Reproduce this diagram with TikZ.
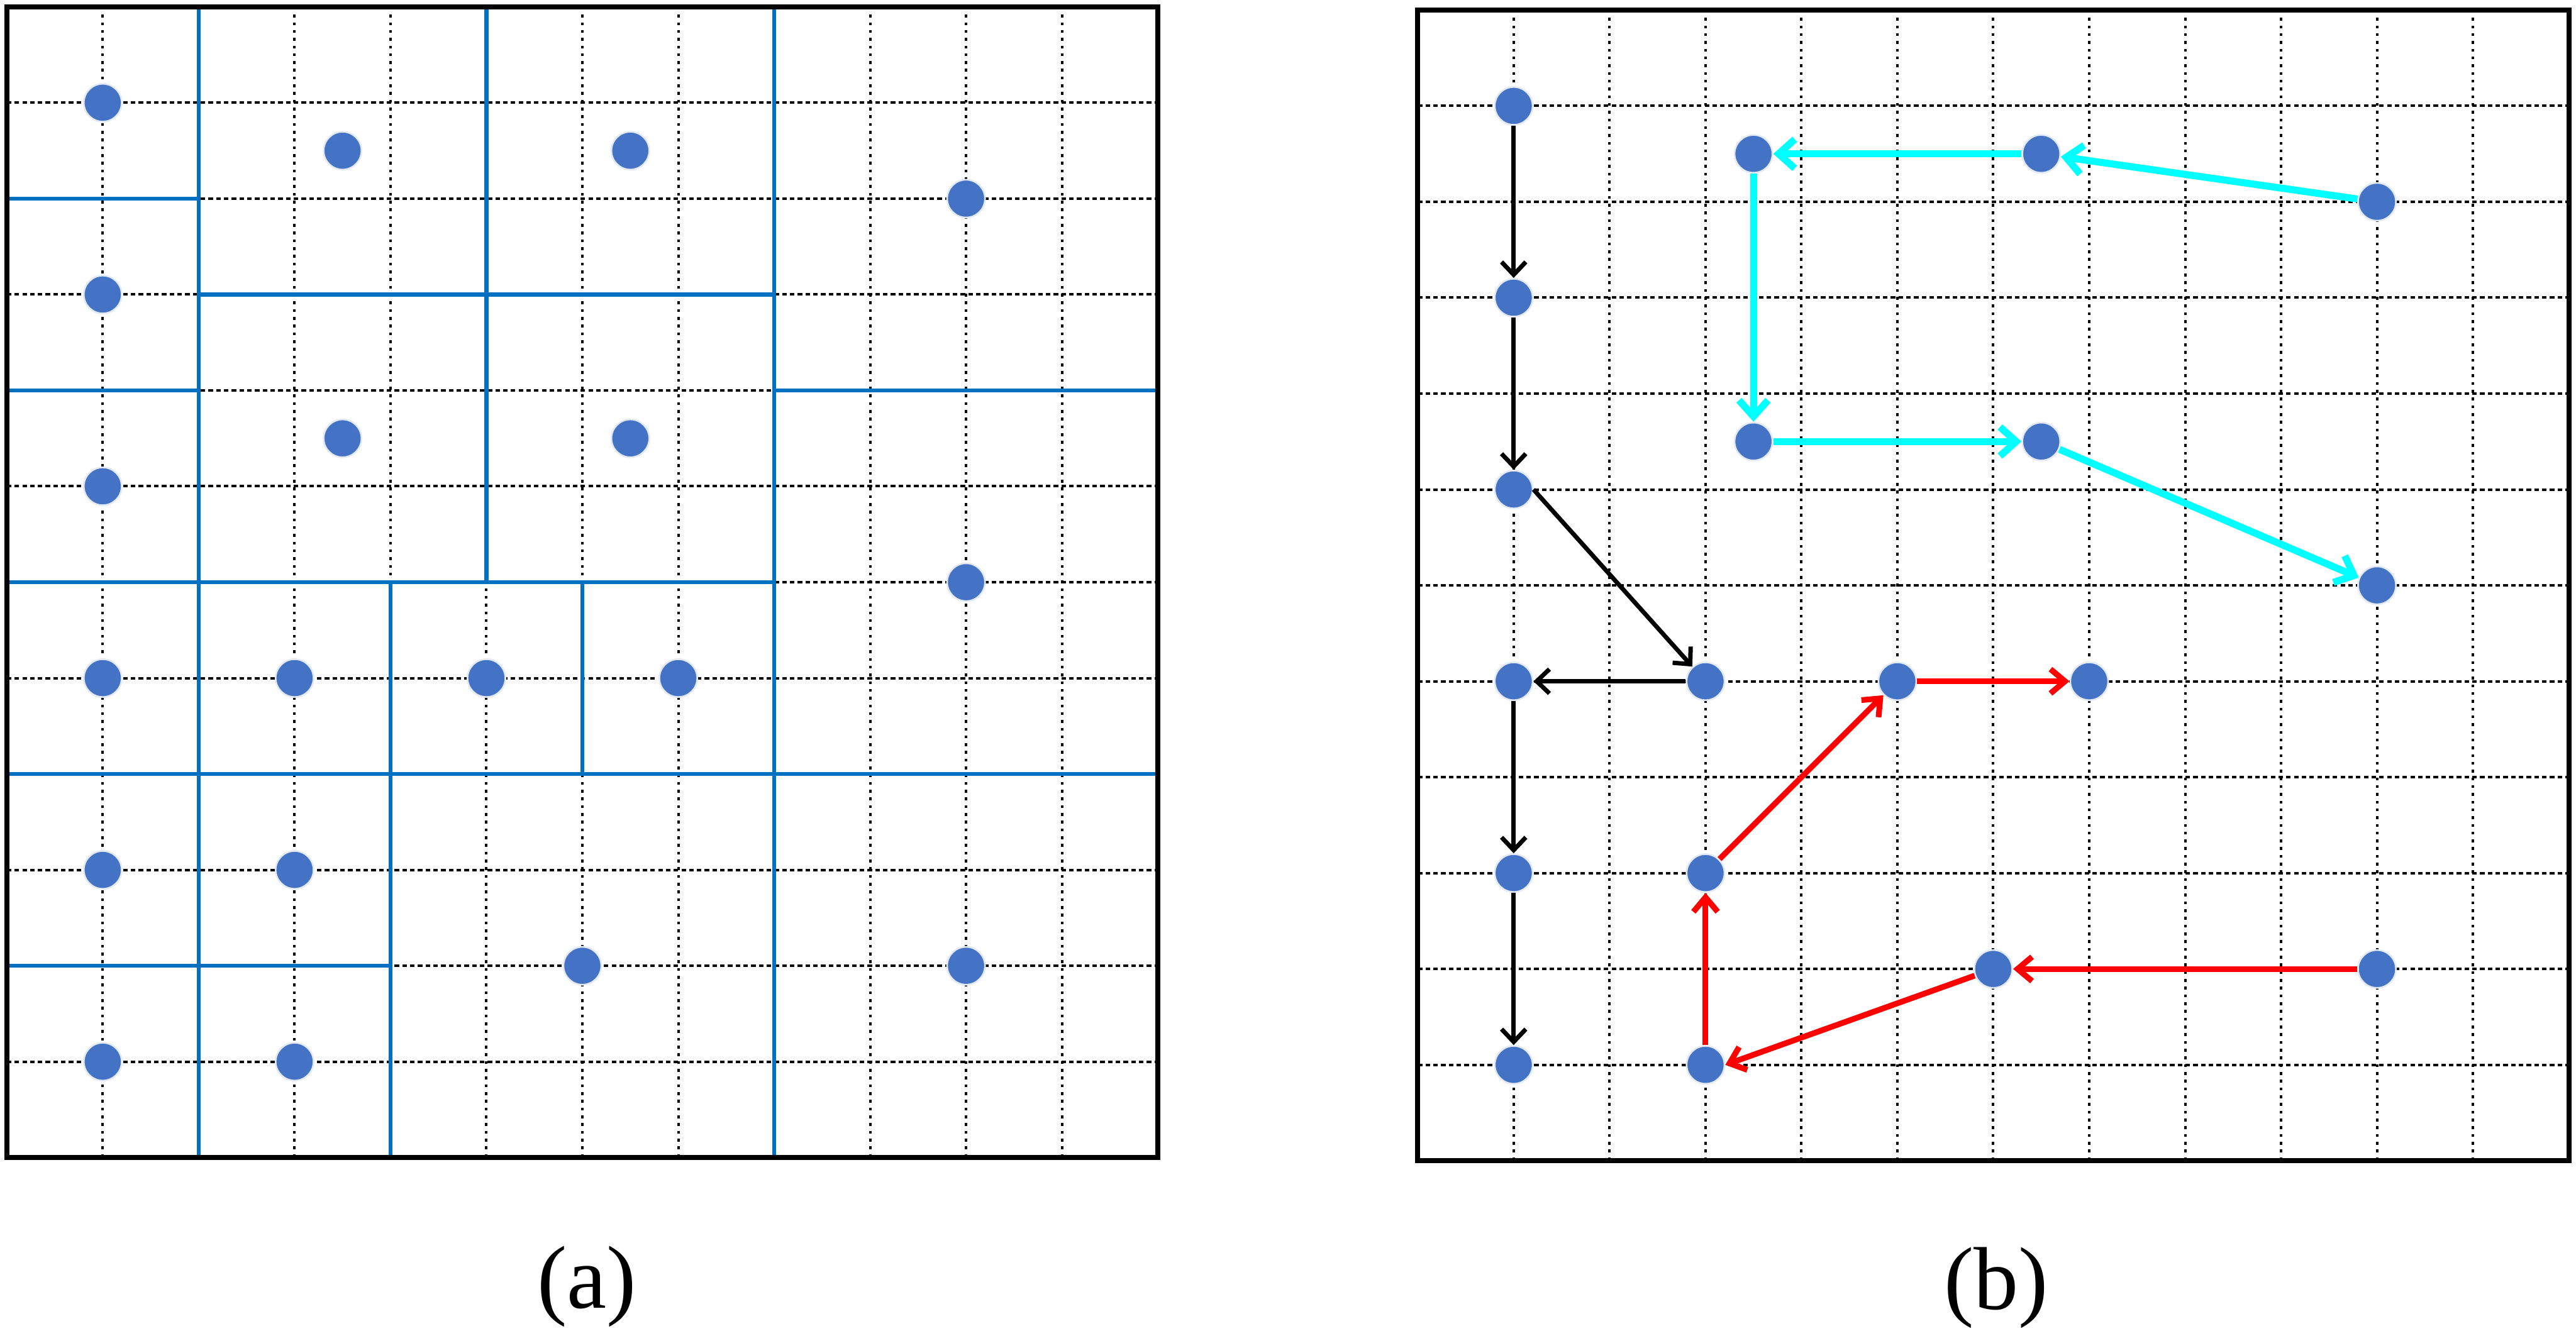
\documentclass[tikz,border=0pt]{standalone}
\usepackage{fontspec}
\setmainfont{Liberation Serif}
\usetikzlibrary{arrows.meta}
\definecolor{dotblue}{HTML}{4472C4}
\definecolor{partblue}{HTML}{0070C0}
\definecolor{trcyan}{HTML}{00FFFF}
\definecolor{trred}{HTML}{FF0000}
\tikzset{
  hgrid/.style={black, line width=0.75pt, dash pattern=on 1.35pt off 0.95pt},
  vgrid/.style={black, line width=0.75pt, dash pattern=on 0.85pt off 1.45pt},
  frame/.style={black, line width=1.45pt},
  part/.style={partblue, line width=1.15pt},
  pt/.style={circle, fill=dotblue, draw=white!85!dotblue, line width=0.5pt, inner sep=0pt, minimum size=0.395cm},
  blackarr/.style={black, line width=1.3pt, -{Straight Barb[length=3.8pt,width=7.2pt]}},
  cyanarr/.style={trcyan, line width=2.1pt, -{Straight Barb[length=4.8pt,width=8.6pt]}},
  redarr/.style={trred, line width=1.7pt, -{Straight Barb[length=4.3pt,width=7.2pt]}},
  caption/.style={font=\fontsize{26.5}{30}\selectfont, anchor=base, inner sep=0pt}
}
\begin{document}
\begin{tikzpicture}[x=1cm,y=-1cm]
\useasboundingbox (0,0) rectangle (26.855,13.875);

% ---------------- panel (a) ----------------
\begin{scope}[shift={(0.0711,0.0711)}]
  \foreach \i in {1,...,11} {
    \draw[hgrid] (0,\i) -- (12,\i);
    \draw[vgrid] (\i,0) -- (\i,12);
  }
  \draw[part] (2,0) -- (2,12);
  \draw[part] (0,2) -- (2,2);
  \draw[part] (5,0) -- (5,6);
  \draw[part] (8,0) -- (8,12);
  \draw[part] (2,3) -- (8,3);
  \draw[part] (0,4) -- (2,4);
  \draw[part] (8,4) -- (12,4);
  \draw[part] (0,6) -- (8,6);
  \draw[part] (4,6) -- (4,12);
  \draw[part] (6,6) -- (6,8);
  \draw[part] (0,8) -- (12,8);
  \draw[part] (0,10) -- (4,10);
  \draw[frame] (0,0) rectangle (12,12);
  \node[pt] (a11) at (1,1) {};
  \node[pt] (a3515) at (3.5,1.5) {};
  \node[pt] (a6515) at (6.5,1.5) {};
  \node[pt] (a102) at (10,2) {};
  \node[pt] (a13) at (1,3) {};
  \node[pt] (a3545) at (3.5,4.5) {};
  \node[pt] (a6545) at (6.5,4.5) {};
  \node[pt] (a15) at (1,5) {};
  \node[pt] (a106) at (10,6) {};
  \node[pt] (a17) at (1,7) {};
  \node[pt] (a37) at (3,7) {};
  \node[pt] (a57) at (5,7) {};
  \node[pt] (a77) at (7,7) {};
  \node[pt] (a19) at (1,9) {};
  \node[pt] (a39) at (3,9) {};
  \node[pt] (a610) at (6,10) {};
  \node[pt] (a1010) at (10,10) {};
  \node[pt] (a111) at (1,11) {};
  \node[pt] (a311) at (3,11) {};
\end{scope}

% ---------------- panel (b) ----------------
\begin{scope}[shift={(14.780,0.1042)}]
  \foreach \i in {1,...,11} {
    \draw[hgrid] (0,\i) -- (12,\i);
    \draw[vgrid] (\i,0) -- (\i,12);
  }
  \draw[frame] (0,0) rectangle (12,12);
  \node[pt] (p11) at (1,1) {};
  \node[pt] (p3515) at (3.5,1.5) {};
  \node[pt] (p6515) at (6.5,1.5) {};
  \node[pt] (p102) at (10,2) {};
  \node[pt] (p13) at (1,3) {};
  \node[pt] (p3545) at (3.5,4.5) {};
  \node[pt] (p6545) at (6.5,4.5) {};
  \node[pt] (p15) at (1,5) {};
  \node[pt] (p106) at (10,6) {};
  \node[pt] (p17) at (1,7) {};
  \node[pt] (p37) at (3,7) {};
  \node[pt] (p57) at (5,7) {};
  \node[pt] (p77) at (7,7) {};
  \node[pt] (p19) at (1,9) {};
  \node[pt] (p39) at (3,9) {};
  \node[pt] (p610) at (6,10) {};
  \node[pt] (p1010) at (10,10) {};
  \node[pt] (p111) at (1,11) {};
  \node[pt] (p311) at (3,11) {};
  % black path
  \draw[blackarr] (p11) -- (p13);
  \draw[blackarr] (p13) -- (p15);
  \draw[blackarr] (p15.east) -- (p37);
  \draw[blackarr] (p37) -- (p17);
  \draw[blackarr] (p17) -- (p19);
  \draw[blackarr] (p19) -- (p111);
  % cyan path
  \draw[cyanarr] (p102) -- (p6515);
  \draw[cyanarr] (p6515) -- (p3515);
  \draw[cyanarr] (p3515) -- (p3545);
  \draw[cyanarr] (p3545) -- (p6545);
  \draw[cyanarr] (p6545) -- (p106);
  % red path
  \draw[redarr] (p1010) -- (p610);
  \draw[redarr] (p610) -- (p311.east);
  \draw[redarr] (p311) -- (p39);
  \draw[redarr] (p39) -- (p57);
  \draw[redarr] (p57) -- (p77);
\end{scope}

\node[caption] (capa) at (6.120,13.643) {(a)};
\node[caption] (capb) at (20.810,13.652) {(b)};
\end{tikzpicture}
\end{document}
